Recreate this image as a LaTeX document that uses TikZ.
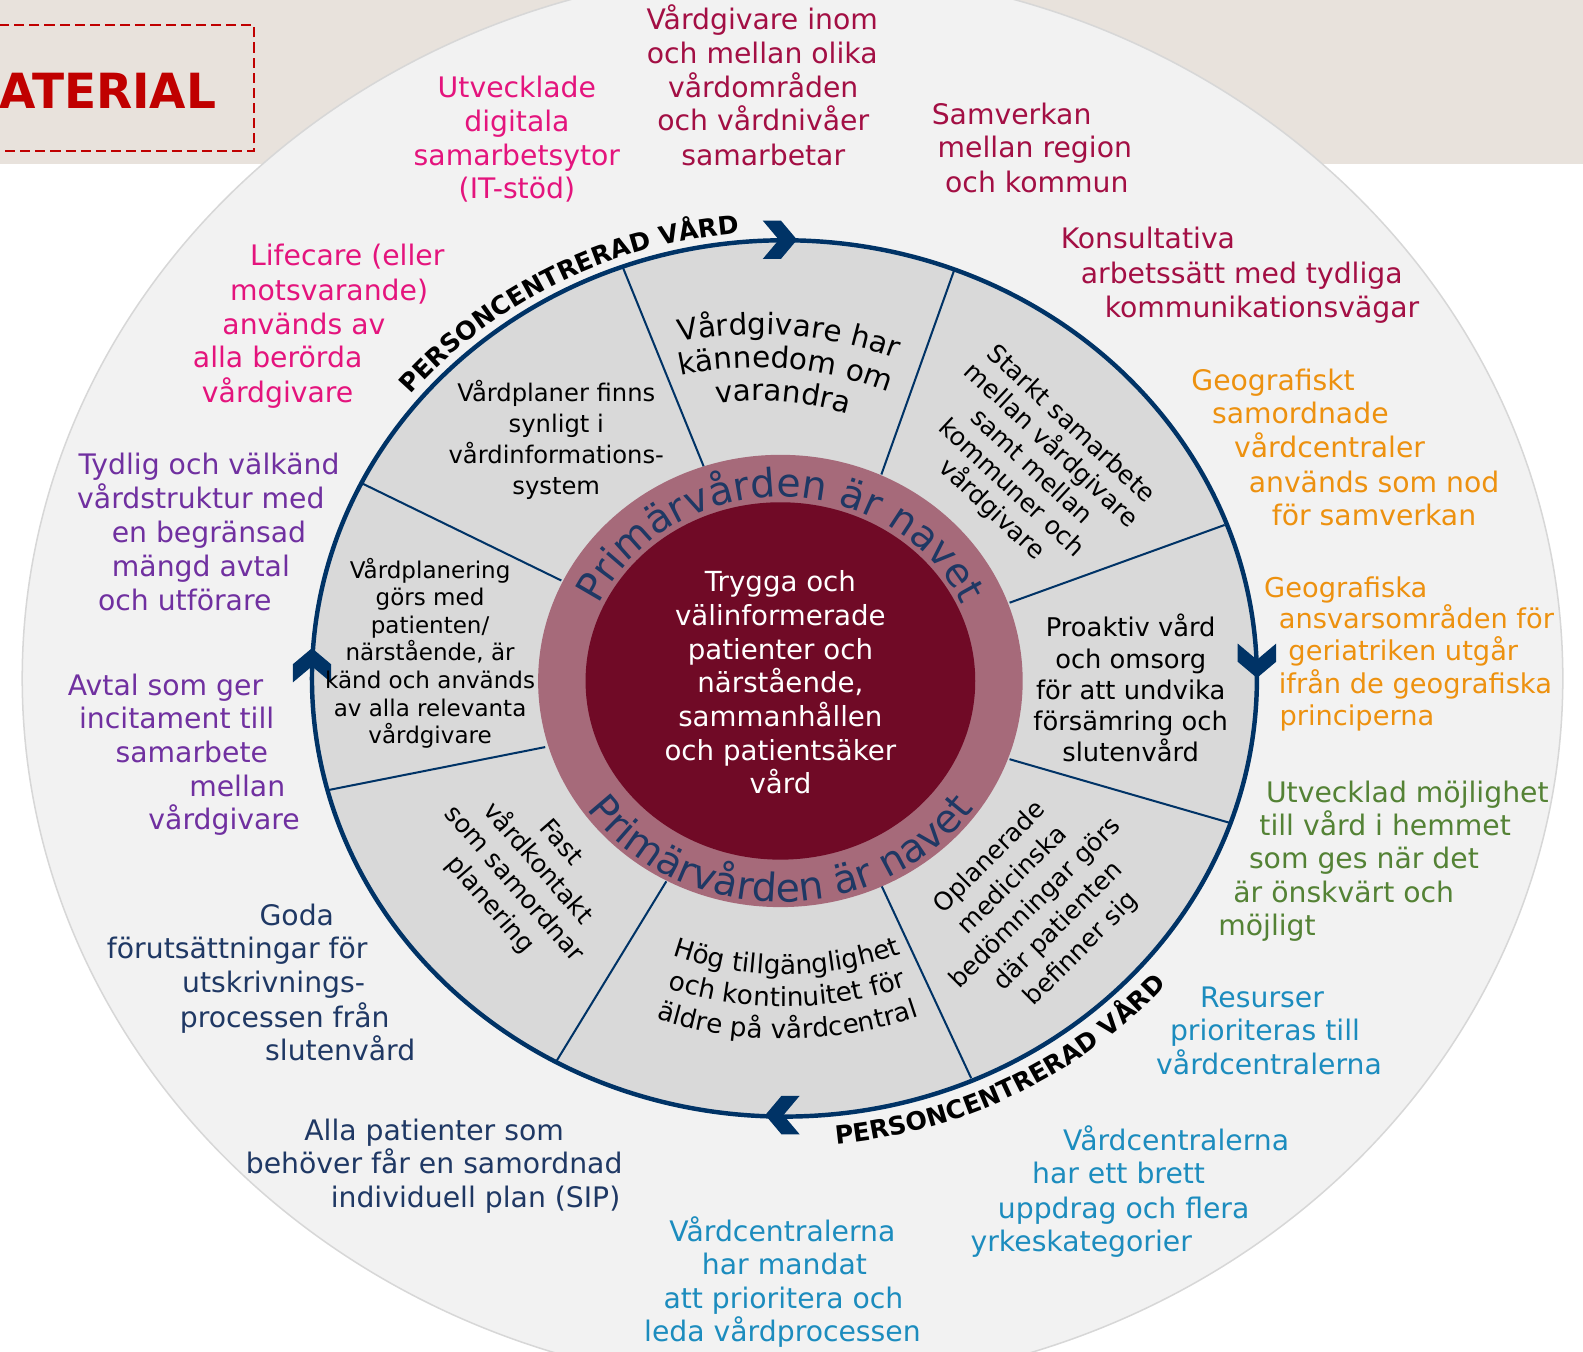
\documentclass[tikz,border=0pt]{standalone}
\usepackage{fontspec}
\usepackage{graphicx}
\setmainfont{DejaVu Sans}
\usetikzlibrary{decorations.text}
\definecolor{bgbeige}{RGB}{232,226,220}
\definecolor{outerfill}{RGB}{242,242,242}
\definecolor{outerline}{RGB}{215,215,215}
\definecolor{ringfill}{RGB}{217,217,217}
\definecolor{navy}{RGB}{0,51,102}
\definecolor{mauve}{RGB}{166,106,122}
\definecolor{hub}{RGB}{112,10,38}
\definecolor{ringtext}{RGB}{31,56,100}
\definecolor{matred}{RGB}{192,0,0}
\definecolor{crimson}{RGB}{163,15,68}
\definecolor{pinkc}{RGB}{228,20,125}
\definecolor{purplec}{RGB}{112,48,160}
\definecolor{orangec}{RGB}{237,145,15}
\definecolor{greenc}{RGB}{84,130,53}
\definecolor{tealc}{RGB}{28,140,190}
\definecolor{navyt}{RGB}{31,56,100}
\tikzset{
  txt/.style={anchor=mid, inner sep=0pt, font=\fontsize{14}{16}\selectfont},
  sectortext/.style={align=center, inner sep=0pt, text=black},
  divider/.style={draw=navy, line width=1pt},
  chevron/.style={fill=navy},
}
\newcommand\tl[5]{\node[txt,#1] (#2) at (#3,-#4) {#5};}
\newcommand\chev[4]{\fill[chevron, shift={(#2,-#3)}, rotate=#4] (0,0) -- (-16,19) -- (-34,19) -- (-18,0) -- (-34,-19) -- (-16,-19) -- cycle;}
\begin{document}
\begin{tikzpicture}[x=0.5pt,y=0.5pt]
\useasboundingbox (0,0) rectangle (1568,-1339);
% background
\fill[bgbeige] (0,0) rectangle (1568,-162.5);
\draw[matred, line width=1pt, dash pattern=on 5pt off 2.5pt] (-20,-25) rectangle (252,-150);
\node[anchor=base west, inner sep=0pt, text=matred, font=\bfseries\fontsize{24}{24}\selectfont] (mat) at (-1,-107) {\scalebox{0.97}[1]{ATERIAL}};
% outer disc
\filldraw[fill=outerfill, draw=outerline, line width=0.75pt] (785,-672) ellipse [x radius=763, y radius=702];
% ring
\fill[ringfill] (777,-672) ellipse [x radius=468, y radius=434];
\draw[divider] (617,-265) -- (697,-462);
\draw[divider] (945,-268) -- (873,-470);
\draw[divider] (1213,-520) -- (1000,-597);
\draw[divider] (1218,-815) -- (1000,-752);
\draw[divider] (962,-1068) -- (873,-877);
\draw[divider] (550,-1053) -- (660,-873);
\draw[divider] (323,-783) -- (540,-740);
\draw[divider] (357,-478) -- (556,-575);
\fill[mauve] (773,-674.5) ellipse [x radius=240, y radius=224];
\fill[hub] (773,-674.5) ellipse [x radius=193, y radius=177];
\draw[navy, line width=2.2pt] (777,-672) ellipse [x radius=468, y radius=434];
\chev{top}{789.5}{237.5}{0}
\chev{right}{1245}{671.5}{-90}
\chev{bottom}{758}{1104.5}{180}
\chev{left}{309}{642}{90}
% ring texts
\path[decorate, decoration={text along path, text align=center, text color=ringtext, text={|\fontsize{19.5}{19.5}\selectfont|Primärvården är navet}}] (773,-674.5) ++(180:198 and 182) arc[start angle=180, end angle=0, x radius=198, y radius=182];
\path[decorate, decoration={text along path, text align=center, text color=ringtext, text={|\fontsize{19.5}{19.5}\selectfont|Primärvården är navet}}] (773,-674.5) ++(180:235 and 219) arc[start angle=180, end angle=360, x radius=235, y radius=219];
\path[decorate, decoration={text along path, text align=center, text color=black, text={|\bfseries\fontsize{12.5}{12.5}\selectfont|PERSONCENTRERAD VÅRD}}] (777,-672) ++(158.5:478 and 443) arc[start angle=158.5, end angle=78.5, x radius=478, y radius=443];
\path[decorate, decoration={text along path, text align=center, text color=black, text={|\bfseries\fontsize{12.5}{12.5}\selectfont|PERSONCENTRERAD VÅRD}}] (777,-672) ++(258:500 and 464) arc[start angle=258, end angle=338, x radius=500, y radius=464];
% sector B (curved)
\path[decorate, decoration={text along path, text align=center, text color=black, text={|\fontsize{14.6}{14.6}\selectfont|Vårdgivare har}}] (750,-672) ++(125:368 and 341) arc[start angle=125, end angle=45, x radius=368, y radius=341];
\path[decorate, decoration={text along path, text align=center, text color=black, text={|\fontsize{14.6}{14.6}\selectfont|kännedom om}}] (750,-672) ++(125:332 and 308) arc[start angle=125, end angle=45, x radius=332, y radius=308];
\path[decorate, decoration={text along path, text align=center, text color=black, text={|\fontsize{14.6}{14.6}\selectfont|varandra}}] (750,-672) ++(125:297 and 275) arc[start angle=125, end angle=45, x radius=297, y radius=275];
% sector G (curved)
\path[decorate, decoration={text along path, text align=center, text color=black, text={|\fontsize{13}{13}\selectfont|Hög tillgänglighet}}] (777,-672) ++(230.5:316 and 293) arc[start angle=230.5, end angle=310.5, x radius=316, y radius=293];
\path[decorate, decoration={text along path, text align=center, text color=black, text={|\fontsize{13}{13}\selectfont|och kontinuitet för}}] (777,-672) ++(230.5:350 and 325) arc[start angle=230.5, end angle=310.5, x radius=350, y radius=325];
\path[decorate, decoration={text along path, text align=center, text color=black, text={|\fontsize{13}{13}\selectfont|äldre på vårdcentral}}] (777,-672) ++(230.5:385 and 357) arc[start angle=230.5, end angle=310.5, x radius=385, y radius=357];
% sector texts
\node[sectortext, font=\fontsize{12}{15.35}\selectfont] (secA) at (551,-436) {Vårdplaner finns\\synligt i\\vårdinformations-\\system};
\node[sectortext, font=\fontsize{12.75}{15.4}\selectfont] (secD) at (1120,-681.5) {Proaktiv vård\\och omsorg\\för att undvika\\försämring och\\slutenvård};
\node[sectortext, font=\fontsize{11.4}{13.65}\selectfont] (secE) at (426,-647) {Vårdplanering\\görs med\\patienten/\\närstående, är\\känd och används\\av alla relevanta\\vårdgivare};
\node[sectortext, rotate=-43, font=\fontsize{12.4}{14.4}\selectfont] (secC) at (1021,-463) {Starkt samarbete\\mellan vårdgivare\\samt mellan\\kommuner och\\vårdgivare};
\node[sectortext, rotate=45, font=\fontsize{12.4}{16}\selectfont] (secF) at (1026,-895) {Oplanerade\\medicinska\\bedömningar görs\\där patienten\\befinner sig};
\node[sectortext, rotate=-49, font=\fontsize{12.5}{15.5}\selectfont] (secH) at (520,-866) {Fast\\vårdkontakt\\som samordnar\\planering};
\node[sectortext, text=white, font=\fontsize{13.7}{16.65}\selectfont] (hubtext) at (773,-676) {Trygga och\\välinformerade\\patienter och\\närstående,\\sammanhållen\\och patientsäker\\vård};
% outer texts
\tl{text=pinkc}{dg1}{512}{91}{Utvecklade}
\tl{text=pinkc}{dg2}{512}{125}{digitala}
\tl{text=pinkc}{dg3}{512}{158}{samarbetsytor}
\tl{text=pinkc}{dg4}{512}{191}{(IT-stöd)}
\tl{text=crimson}{vi1}{755}{24}{Vårdgivare inom}
\tl{text=crimson}{vi2}{755}{57}{och mellan olika}
\tl{text=crimson}{vi3}{756}{91}{vårdområden}
\tl{text=crimson}{vi4}{756}{124}{och vårdnivåer}
\tl{text=crimson}{vi5}{756}{158}{samarbetar}
\tl{text=crimson}{sv1}{1002}{118}{Samverkan}
\tl{text=crimson}{sv2}{1025}{151}{mellan region}
\tl{text=crimson}{sv3}{1027}{185}{och kommun}
\tl{text=crimson}{ko1}{1137}{241}{Konsultativa}
\tl{text=crimson}{ko2}{1230}{275}{arbetssätt med tydliga}
\tl{text=crimson}{ko3}{1250}{309}{kommunikationsvägar}
\tl{text=orangec}{gs1}{1261}{381}{Geografiskt}
\tl{text=orangec}{gs2}{1288}{414}{samordnade}
\tl{text=orangec}{gs3}{1317}{448}{vårdcentraler}
\tl{text=orangec}{gs4}{1361}{482}{används som nod}
\tl{text=orangec}{gs5}{1361}{515}{för samverkan}
\tl{text=orangec, font=\fontsize{13.5}{16}\selectfont}{ga1}{1333}{586}{Geografiska}
\tl{text=orangec, font=\fontsize{13.5}{16}\selectfont}{ga2}{1403}{617}{ansvarsområden för}
\tl{text=orangec, font=\fontsize{13.5}{16}\selectfont}{ga3}{1390}{649}{geriatriken utgår}
\tl{text=orangec, font=\fontsize{13.5}{16}\selectfont}{ga4}{1402}{681}{ifrån de geografiska}
\tl{text=orangec, font=\fontsize{13.5}{16}\selectfont}{ga5}{1344}{713}{principerna}
\tl{text=greenc}{hm1}{1394}{789}{Utvecklad möjlighet}
\tl{text=greenc}{hm2}{1372}{822}{till vård i hemmet}
\tl{text=greenc}{hm3}{1351}{855}{som ges när det}
\tl{text=greenc}{hm4}{1331}{888}{är önskvärt och}
\tl{text=greenc}{hm5}{1255}{921}{möjligt}
\tl{text=tealc}{rs1}{1250}{992}{Resurser}
\tl{text=tealc}{rs2}{1253}{1025}{prioriteras till}
\tl{text=tealc}{rs3}{1257}{1059}{vårdcentralerna}
\tl{text=tealc}{vb1}{1165}{1134}{Vårdcentralerna}
\tl{text=tealc}{vb2}{1108}{1167}{har ett brett}
\tl{text=tealc}{vb3}{1113}{1201}{uppdrag och flera}
\tl{text=tealc}{vb4}{1071}{1234}{yrkeskategorier}
\tl{text=tealc}{vm1}{775}{1224}{Vårdcentralerna}
\tl{text=tealc}{vm2}{777}{1257}{har mandat}
\tl{text=tealc}{vm3}{776}{1291}{att prioritera och}
\tl{text=tealc}{vm4}{775}{1323}{leda vårdprocessen}
\tl{text=navyt}{sp1}{430}{1124}{Alla patienter som}
\tl{text=navyt}{sp2}{430}{1157}{behöver får en samordnad}
\tl{text=navyt}{sp3}{471}{1191}{individuell plan (SIP)}
\tl{text=navyt}{gf1}{294}{911}{Goda}
\tl{text=navyt}{gf2}{235}{944}{förutsättningar för}
\tl{text=navyt}{gf3}{271}{978}{utskrivnings-}
\tl{text=navyt}{gf4}{282}{1012}{processen från}
\tl{text=navyt}{gf5}{337}{1045}{slutenvård}
\tl{text=purplec}{av1}{164}{683}{Avtal som ger}
\tl{text=purplec}{av2}{175}{716}{incitament till}
\tl{text=purplec}{av3}{190}{750}{samarbete}
\tl{text=purplec}{av4}{235}{783}{mellan}
\tl{text=purplec}{av5}{222}{816}{vårdgivare}
\tl{text=purplec}{ty1}{207}{465}{Tydlig och välkänd}
\tl{text=purplec}{ty2}{199}{498}{vårdstruktur med}
\tl{text=purplec}{ty3}{207}{532}{en begränsad}
\tl{text=purplec}{ty4}{199}{566}{mängd avtal}
\tl{text=purplec}{ty5}{183}{599}{och utförare}
\tl{text=pinkc}{lc1}{344}{258}{Lifecare (eller}
\tl{text=pinkc}{lc2}{326}{292}{motsvarande)}
\tl{text=pinkc}{lc3}{301}{326}{används av}
\tl{text=pinkc}{lc4}{275}{359}{alla berörda}
\tl{text=pinkc}{lc5}{275}{393}{vårdgivare}
\end{tikzpicture}
\end{document}
